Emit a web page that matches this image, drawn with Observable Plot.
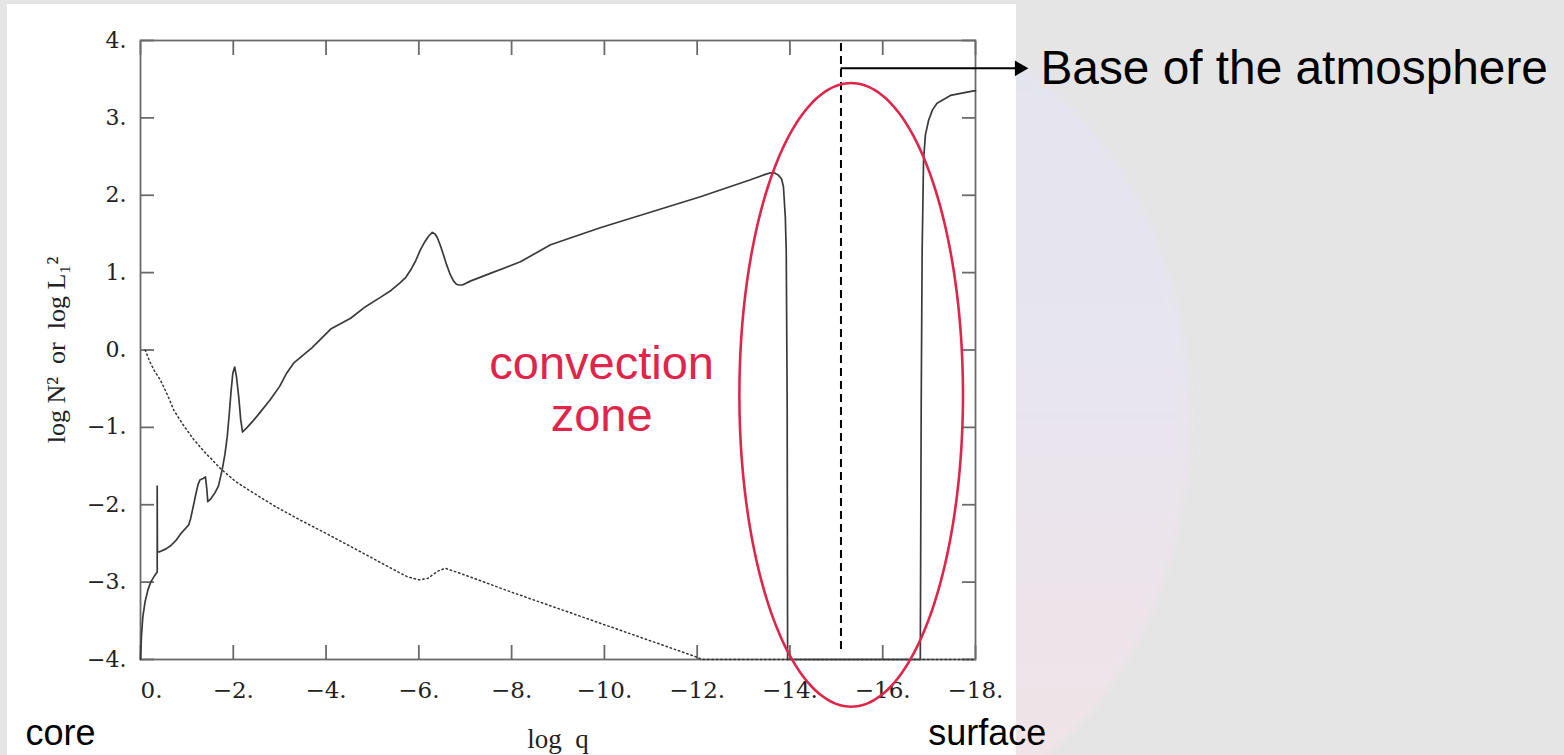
<!DOCTYPE html>
<html><head><meta charset="utf-8">
<script src="https://cdn.jsdelivr.net/npm/d3@7"></script>
<script src="https://cdn.jsdelivr.net/npm/@observablehq/plot@0.6"></script>
<style>
html,body{margin:0;padding:0;width:1564px;height:755px;overflow:hidden;background:#e5e5e5;}
#glow{position:absolute;left:560px;top:20px;width:630px;height:800px;border-radius:50%;
  background:linear-gradient(180deg,#e4e4ef 0%,#e7e5ef 40%,#ede4ea 75%,#f0e4e6 100%);filter:blur(4px);}
#panel{position:absolute;left:7px;top:4px;width:1009px;height:751px;background:#fff;}
#chart{position:absolute;left:0;top:0;}
</style></head><body>
<div id="glow"></div><div id="panel"></div><div id="chart"></div>
<script>
// axis ticks
const xTicks = [0, -2, -4, -6, -8, -10, -12, -14, -16, -18];
const yTicks = [-4, -3, -2, -1, 0, 1, 2, 3, 4];

// log N^2 (solid curve) vs log q
const logQ_N2 = [0, -0.02, -0.05, -0.1, -0.16, -0.22, -0.3, -0.36, -0.36, -0.365,
  -0.4, -0.55, -0.65, -0.78, -0.86, -0.95, -1.04, -1.08, -1.12, -1.18, -1.24, -1.28, -1.35, -1.4,
  -1.43, -1.45, -1.52, -1.6, -1.68, -1.76, -1.82, -1.87, -1.91, -1.95, -1.99, -2.03, -2.07,
  -2.12, -2.16, -2.2, -2.3, -2.45, -2.6, -2.8, -3.0, -3.15, -3.3, -3.5, -3.7, -3.9, -4.1,
  -4.53, -4.85, -5.17, -5.4, -5.6, -5.72, -5.82, -5.93, -6.03, -6.13, -6.21, -6.29, -6.35, -6.4,
  -6.47, -6.53, -6.6, -6.68, -6.75, -6.81, -6.87, -6.94, -7.11,
  -7.54, -8.19, -8.84, -9.91, -10.99, -12.07, -13.15, -13.47, -13.58, -13.68, -13.75, -13.82, -13.86, -13.9,
  -13.92, -13.94, -13.95, -16.81, -16.83, -16.85, -16.88, -16.92, -16.99, -17.07, -17.17,
  -17.46, -17.96, -18];
const logN2 = [-4, -3.7, -3.45, -3.25, -3.1, -3.0, -2.92, -2.87, -1.76, -2.61,
  -2.61, -2.57, -2.53, -2.45, -2.38, -2.32, -2.26, -2.18, -2.07, -1.9, -1.74, -1.68, -1.66, -1.64,
  -1.8, -1.96, -1.92, -1.85, -1.76, -1.55, -1.35, -1.12, -0.85, -0.55, -0.3, -0.22, -0.35,
  -0.62, -0.9, -1.06, -1.0, -0.9, -0.79, -0.64, -0.47, -0.3, -0.17, -0.07, 0.03, 0.15, 0.27,
  0.41, 0.56, 0.68, 0.77, 0.87, 0.94, 1.03, 1.15, 1.29, 1.4, 1.47, 1.52, 1.5, 1.45,
  1.34, 1.23, 1.1, 0.97, 0.89, 0.85, 0.84, 0.84, 0.89,
  0.99, 1.14, 1.36, 1.58, 1.78, 1.98, 2.2, 2.27, 2.29, 2.285, 2.26, 2.21, 2.11, 1.72,
  1.29, -0.65, -4, -4, -0.65, 1.29, 2.45, 2.78, 2.97, 3.1, 3.19,
  3.29, 3.35, 3.35];

// log L1^2 (dotted curve) vs log q
const logQ_L1 = [-0.1, -0.2, -0.3, -0.43, -0.58, -0.72, -0.9, -1.15, -1.4, -1.72, -2.05, -2.44,
  -2.9, -3.45, -4.0, -4.53, -5.0, -5.46, -5.75, -6.0, -6.2, -6.4, -6.57, -7.0, -8.0, -9.0,
  -10.0, -11.0, -12.0, -12.1, -18];
const logL1 = [0.0, -0.15, -0.27, -0.39, -0.58, -0.78, -0.95, -1.16, -1.33, -1.53, -1.7, -1.85,
  -2.02, -2.2, -2.37, -2.54, -2.69, -2.84, -2.93, -2.97, -2.95, -2.86, -2.82, -2.91, -3.13, -3.34,
  -3.55, -3.76, -3.97, -4.0, -4.0];

// annotations
const atmosphereBase = -15.1;
const convZone = {q: -15.32, v: -0.58, rq: 2.41, rv: 4.03};

const red = "#e0254b";
const frameColor = "#6a6a6a";
const fmt = d => (d < 0 ? "\u2212" : "") + Math.abs(d) + ".";
const blank = () => "";

const n2 = logQ_N2.map((q, i) => ({q, v: logN2[i]}));
const l1 = logQ_L1.map((q, i) => ({q, v: logL1[i]}));
const ellipse = d3.range(0, 361, 3).map(a => ({
  q: convZone.q + convZone.rq * Math.cos(a * Math.PI / 180),
  v: convZone.v + convZone.rv * Math.sin(a * Math.PI / 180)
}));

const chart = Plot.plot({
  width: 1564, height: 755,
  marginLeft: 140, marginRight: 589, marginTop: 40, marginBottom: 96,
  x: {domain: [0, -18]},
  y: {domain: [-4, 4]},
  style: {background: "transparent", fontFamily: "'DejaVu Serif', serif", overflow: "visible", color: "#222"},
  marks: [
    Plot.frame({stroke: frameColor, strokeWidth: 1.8}),
    Plot.axisX(xTicks.filter(d => d !== 0), {anchor: "bottom", tickSize: 0, tickPadding: 22, tickFormat: fmt, fontSize: 23, label: null}),
    Plot.axisX([0], {anchor: "bottom", tickSize: 0, tickPadding: 22, dx: 11, tickFormat: fmt, fontSize: 23, label: null}),
    Plot.axisX(xTicks, {anchor: "bottom", tickSize: -14, tickFormat: blank, label: null, stroke: frameColor, strokeWidth: 1.8}),
    Plot.axisX(xTicks, {anchor: "top", tickSize: -14, tickFormat: blank, label: null, stroke: frameColor, strokeWidth: 1.8}),
    Plot.axisY(yTicks, {anchor: "left", tickSize: 0, tickPadding: 14, tickFormat: fmt, fontSize: 22, label: null}),
    Plot.axisY(yTicks, {anchor: "left", tickSize: -14, tickFormat: blank, label: null, stroke: frameColor, strokeWidth: 1.8}),
    Plot.axisY(yTicks, {anchor: "right", tickSize: -14, tickFormat: blank, label: null, stroke: frameColor, strokeWidth: 1.8}),
    Plot.text(["log\u00a0N\u00b2\u00a0\u00a0or\u00a0\u00a0log\u00a0L\u2081\u00b2"], {frameAnchor: "left", dx: -84, rotate: -90,
      textAnchor: "middle", lineAnchor: "middle", fontSize: 26, fontFamily: "'Liberation Serif', serif", fill: "#222"}),
    Plot.text(["log\u00a0\u00a0q"], {frameAnchor: "bottom", dy: 80, lineAnchor: "middle", fontSize: 27,
      fontFamily: "'Liberation Serif', serif", fill: "#222"}),
    Plot.line(l1, {x: "q", y: "v", stroke: "#333", strokeWidth: 1.5, strokeDasharray: "1.4,3"}),
    Plot.line(n2, {x: "q", y: "v", stroke: "#3a3a3a", strokeWidth: 1.7}),
    Plot.ruleX([atmosphereBase], {y1: 3.96, y2: -3.92, stroke: "#000", strokeWidth: 2, strokeDasharray: "8,5"}),
    Plot.ruleY([3.64], {x1: atmosphereBase, x2: -18.9, stroke: "#000", strokeWidth: 2}),
    Plot.dot([{q: -19.14, v: 3.64}], {x: "q", y: "v", dx: -9, symbol: "triangle", rotate: 90, r: 5.8, fill: "#000", stroke: null}),
    Plot.line(ellipse, {x: "q", y: "v", stroke: red, strokeWidth: 2.6, curve: "catmull-rom"}),
    Plot.text(["convection\nzone"], {x: () => -9.94, y: () => -0.49, fill: red, fontSize: 47, lineHeight: 1.106,
      fontFamily: "'Liberation Sans', Arial, sans-serif"}),
    Plot.text(["Base of the atmosphere"], {x: () => -19.4, y: () => 3.64, textAnchor: "start", fill: "#000", fontSize: 47.8,
      fontFamily: "'Liberation Sans', Arial, sans-serif"}),
    Plot.text(["core"], {x: () => 2.48, y: () => -4.955, textAnchor: "start", fill: "#000", fontSize: 36,
      fontFamily: "'Liberation Sans', Arial, sans-serif"}),
    Plot.text(["surface"], {x: () => -16.98, y: () => -4.955, textAnchor: "start", fill: "#000", fontSize: 36,
      fontFamily: "'Liberation Sans', Arial, sans-serif"})
  ]
});
document.getElementById("chart").appendChild(chart);
</script>
</body></html>
